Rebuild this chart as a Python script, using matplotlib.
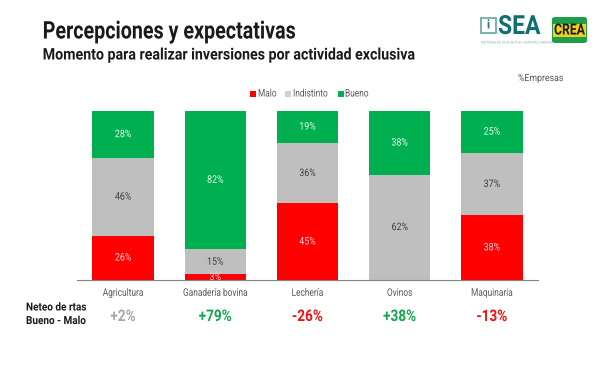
import numpy as np
import matplotlib
matplotlib.use('Agg')
import matplotlib.pyplot as plt
from matplotlib.patches import Rectangle, FancyBboxPatch
from matplotlib.patheffects import AbstractPathEffect
from matplotlib.transforms import Affine2D

categories = ['Agricultura', 'Ganadería bovina', 'Lechería', 'Ovinos', 'Maquinaria']
malo = [26, 3, 45, 0, 38]
indistinto = [46, 15, 36, 62, 37]
bueno = [28, 82, 19, 38, 25]
neteo = ['+2%', '+79%', '-26%', '+38%', '-13%']
neteo_colors = ['#A6A6A6', '#12A650', '#F01010', '#12A650', '#F01010']
legend_labels = ['Malo', 'Indistinto', 'Bueno']

plt.rcParams['font.family'] = ['Roboto', 'DejaVu Sans']

W, H = 600, 373
RED, GREY, GREEN = '#FF0000', '#BFBFBF', '#00B050'
DARK = '#1A1A1A'


class Condense(AbstractPathEffect):
    # squeeze glyphs sideways, the reference font is a condensed one
    def __init__(self, sx, center=False):
        super().__init__()
        self.sx = sx
        self.center = center

    def draw_path(self, renderer, gc, tpath, affine, rgbFace=None):
        m = affine.get_matrix().copy()
        if self.center:
            m[0, 2] += tpath.get_extents().x1 * m[0, 0] * (1 - self.sx) / 2
        m[0, 0] *= self.sx
        renderer.draw_path(gc, tpath, Affine2D(m), rgbFace)


fig = plt.figure(figsize=(6, 3.73), dpi=100)


def fx(x):
    return x / W


def fy(y):
    return 1 - y / H


def label(px, py, s, size, sx, color=DARK, weight='normal', ha='left'):
    t = fig.text(fx(px), fy(py), s, fontsize=size, fontweight=weight, color=color, ha=ha, va='center')
    t.set_path_effects([Condense(sx, ha == 'center')])
    return t


ax = fig.add_axes([fx(77), fy(279.5), fx(461), (279.5 - 110.5) / H])
x = np.arange(5)
bw = 0.667
ax.bar(x, malo, bw, color=RED)
ax.bar(x, indistinto, bw, bottom=malo, color=GREY)
bottom2 = np.array(malo) + np.array(indistinto)
ax.bar(x, bueno, bw, bottom=bottom2, color=GREEN)

for i in range(5):
    items = []
    if malo[i] > 0:
        items.append(ax.text(i, malo[i] / 2, f'{malo[i]}%', ha='center', va='center', color='#FFD8D8', fontsize=7.5))
    items.append(ax.text(i, malo[i] + indistinto[i] / 2, f'{indistinto[i]}%', ha='center', va='center', color='#404040', fontsize=7.5))
    items.append(ax.text(i, bottom2[i] + bueno[i] / 2, f'{bueno[i]}%', ha='center', va='center', color='#E8F6EE', fontsize=7.5))
    for t in items:
        t.set_path_effects([Condense(0.85, True)])

ax.set_xlim(-0.5, 4.5)
ax.set_ylim(0, 100)
ax.set_yticks([])
ax.set_xticks(x, categories, fontsize=7.5, color='#595959')
ax.tick_params(axis='x', length=0, pad=6)
for t in ax.get_xticklabels():
    t.set_path_effects([Condense(0.8, True)])
for s in ['top', 'left', 'right']:
    ax.spines[s].set_visible(False)
ax.spines['bottom'].set_color('#808080')
ax.spines['bottom'].set_linewidth(0.8)

# net row under each column
for i in range(5):
    t = ax.annotate(neteo[i], xy=(i, 0), xycoords=('data', 'axes fraction'), xytext=(0, -37),
                    textcoords='offset pixels', ha='center', va='center',
                    fontsize=11.5, fontweight='bold', color=neteo_colors[i])
    t.set_path_effects([Condense(0.85, True)])

label(26, 307.5, 'Neteo de rtas', 8, 0.9, weight='bold')
label(26, 321, 'Bueno - Malo', 8, 0.9, weight='bold')

label(42.7, 32, 'Percepciones y expectativas', 17.5, 0.81, weight='bold')
label(42.7, 55, 'Momento para realizar inversiones por actividad exclusiva', 11.5, 0.89, weight='bold')
label(518, 78, '%Empresas', 7, 0.9, color='#595959')

# legend
for px, text_x, c, s in zip([250, 285, 337.5], [258, 293, 345], [RED, '#D0D0D0', GREEN], legend_labels):
    fig.add_artist(Rectangle((fx(px), fy(96.5)), 6 / W, 6 / H, fc=c, ec='none', transform=fig.transFigure))
    label(text_x, 93.5, s, 7.5, 0.8, color='#595959')

# logos
fig.add_artist(Rectangle((fx(481), fy(33)), 15 / W, 15 / H, fill=False, ec='#5FA8A0', lw=1.2, transform=fig.transFigure))
label(488.5, 25, 'i', 9, 1, color='#2E7D6B', weight='bold', ha='center')
label(498, 27, 'SEA', 19, 0.87, color='#0F6E70', weight='bold')
label(481, 42.5, 'SISTEMA DE ENCUESTAS AGROPECUARIAS', 2.6, 1, color='#8FB5B0')
fig.add_artist(FancyBboxPatch((fx(552), fy(43)), 35 / W, 26 / H, boxstyle='round,pad=0,rounding_size=0.006',
                              fc='#1E9E4A', ec='none', transform=fig.transFigure))
fig.add_artist(Rectangle((fx(553), fy(37)), 33 / W, 13 / H, fc='#F2D21B', ec='none', transform=fig.transFigure))
label(569.5, 30.5, 'CREA', 11, 0.8, weight='bold', ha='center')

fig.savefig('out.png', dpi=100)
